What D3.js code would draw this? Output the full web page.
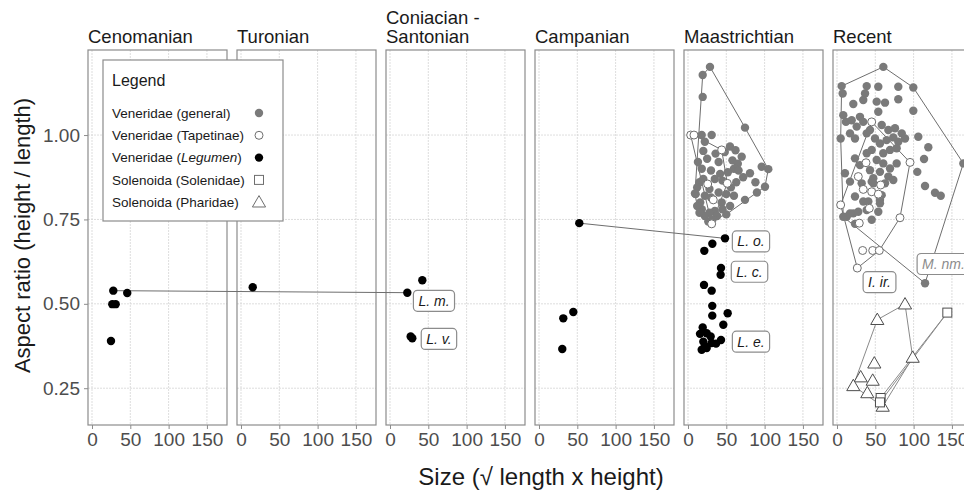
<!DOCTYPE html>
<html>
<head>
<meta charset="utf-8">
<script src="https://cdn.jsdelivr.net/npm/d3@7"></script>
<style>
  body { margin: 0; background: #fff; }
  svg { font-family: "Liberation Sans", Arial, sans-serif; }
</style>
</head>
<body>
<div id="chart"></div>
<script>
// periods (facets), left to right
const periods = ["Cenomanian", "Turonian", "Coniacian - Santonian", "Campanian", "Maastrichtian", "Recent"];
const xTicks = [0, 50, 100, 150];
const yTicks = [0.25, 0.50, 0.75, 1.00];

// Veneridae (general) : [period, size, aspect]
const general = [
  // Maastrichtian
  ["Maastrichtian",28.7,1.202],["Maastrichtian",19.2,1.178],["Maastrichtian",19.2,1.113],["Maastrichtian",74.4,1.022],
  ["Maastrichtian",17.9,1.0],["Maastrichtian",30.9,1.0],["Maastrichtian",22,0.98],
  ["Maastrichtian",54.8,0.966],["Maastrichtian",20,0.953],["Maastrichtian",48,0.95],["Maastrichtian",36,0.945],["Maastrichtian",62,0.955],
  ["Maastrichtian",70.1,0.936],["Maastrichtian",58,0.925],["Maastrichtian",25,0.93],["Maastrichtian",40,0.92],["Maastrichtian",65,0.915],["Maastrichtian",13,0.92],
  ["Maastrichtian",96.2,0.906],["Maastrichtian",104.8,0.899],["Maastrichtian",80.9,0.887],["Maastrichtian",60,0.9],["Maastrichtian",66,0.895],
  ["Maastrichtian",52,0.89],["Maastrichtian",18,0.9],["Maastrichtian",30,0.895],["Maastrichtian",42,0.885],["Maastrichtian",72,0.875],
  ["Maastrichtian",100.5,0.847],["Maastrichtian",88,0.86],["Maastrichtian",63,0.86],["Maastrichtian",56,0.845],["Maastrichtian",15,0.86],
  ["Maastrichtian",35,0.87],["Maastrichtian",45,0.865],["Maastrichtian",20,0.87],["Maastrichtian",12,0.845],["Maastrichtian",28,0.84],
  ["Maastrichtian",74.4,0.808],["Maastrichtian",90,0.83],["Maastrichtian",60,0.82],["Maastrichtian",50,0.825],["Maastrichtian",40,0.83],
  ["Maastrichtian",10,0.825],["Maastrichtian",22,0.82],["Maastrichtian",30,0.815],["Maastrichtian",44,0.80],["Maastrichtian",16,0.80],["Maastrichtian",9.1,0.827],
  ["Maastrichtian",26.5,0.744],["Maastrichtian",18,0.78],["Maastrichtian",35,0.775],["Maastrichtian",45,0.78],["Maastrichtian",55,0.79],
  ["Maastrichtian",12,0.79],["Maastrichtian",28,0.77],["Maastrichtian",38,0.76],["Maastrichtian",22,0.76],["Maastrichtian",50,0.765],
  ["Maastrichtian",32,0.75],["Maastrichtian",15,0.77],
  // Recent
  ["Recent",60.5,1.202],["Recent",6.1,1.145],["Recent",7.4,1.123],["Recent",38.8,1.145],["Recent",53.9,1.143],["Recent",80.0,1.143],
  ["Recent",99.6,1.141],["Recent",36.6,1.123],["Recent",34.3,1.104],["Recent",21.3,1.092],["Recent",51.8,1.099],["Recent",62.7,1.096],
  ["Recent",80.0,1.106],["Recent",99.6,1.072],["Recent",53.9,1.069],["Recent",8.2,1.059],["Recent",11.7,1.039],["Recent",19.2,1.044],
  ["Recent",30.0,1.054],["Recent",34.3,1.039],["Recent",25.7,1.025],["Recent",43.1,1.015],["Recent",58.4,1.030],["Recent",67.0,1.015],
  ["Recent",75.7,1.020],["Recent",84.5,1.005],["Recent",88.8,0.990],["Recent",4.8,0.990],["Recent",17.0,1.005],["Recent",23.5,0.990],
  ["Recent",38.8,1.005],["Recent",49.6,0.990],["Recent",56.1,0.975],["Recent",64.8,0.985],["Recent",73.5,0.993],["Recent",80.0,0.980],
  ["Recent",69.2,0.956],["Recent",77.9,0.961],["Recent",60.4,0.946],["Recent",106.1,0.995],["Recent",119.2,0.964],["Recent",113.6,0.929],
  ["Recent",104.8,0.891],["Recent",114.9,0.849],["Recent",127.9,0.829],["Recent",135.4,0.820],["Recent",164.9,0.916],
  ["Recent",23.5,0.931],["Recent",30.0,0.911],["Recent",38.8,0.946],["Recent",45.3,0.956],["Recent",51.8,0.926],["Recent",60.4,0.916],
  ["Recent",69.2,0.901],["Recent",77.9,0.916],["Recent",67.0,0.877],["Recent",56.1,0.891],["Recent",43.1,0.896],["Recent",73.5,0.867],
  ["Recent",62.7,0.857],["Recent",47.4,0.872],["Recent",10.4,0.887],["Recent",17.0,0.862],["Recent",32.2,0.857],["Recent",45.3,0.862],
  ["Recent",23.5,0.818],["Recent",34.3,0.803],["Recent",56.1,0.808],["Recent",21.3,0.768],["Recent",27.8,0.773],["Recent",38.8,0.778],
  ["Recent",53.9,0.773],["Recent",12.7,0.758],["Recent",45.3,0.749],["Recent",8.2,0.758],["Recent",23.5,0.737],["Recent",17.0,0.768],
  ["Recent",40.9,0.803],["Recent",56.1,0.798],["Recent",58.3,0.822],["Recent",47.4,0.857],["Recent",114.9,0.561]
];

// Veneridae (Tapetinae)
const tapetinae = [
  ["Maastrichtian",3.5,1.0],["Maastrichtian",7.8,1.0],["Maastrichtian",44,0.956],["Maastrichtian",25.7,0.855],
  ["Maastrichtian",51.3,0.857],["Maastrichtian",33,0.808],["Maastrichtian",30.9,0.737],
  ["Recent",45.3,1.039],["Recent",95.3,0.919],["Recent",37.9,0.918],["Recent",27.8,0.877],["Recent",34.3,0.839],
  ["Recent",45.3,0.832],["Recent",54,0.825],["Recent",57,0.852],["Recent",42.2,0.783],["Recent",4.8,0.793],
  ["Recent",29.1,0.739],["Recent",82.2,0.755],["Recent",33.5,0.658],["Recent",46.6,0.658],["Recent",55.2,0.658],["Recent",26.5,0.606]
];

// Veneridae (Legumen)
const legumen = [
  ["Cenomanian",27.8,0.539],["Cenomanian",46,0.532],["Cenomanian",26.5,0.499],["Cenomanian",30.9,0.499],["Cenomanian",24.8,0.39],
  ["Turonian",15.3,0.549],
  ["Coniacian - Santonian",22.6,0.533],["Coniacian - Santonian",42.2,0.570],["Coniacian - Santonian",27,0.403],["Coniacian - Santonian",29.1,0.398],
  ["Campanian",52.6,0.739],["Campanian",44.8,0.476],["Campanian",31.7,0.457],["Campanian",30.4,0.366],
  ["Maastrichtian",48.3,0.694],["Maastrichtian",31.8,0.678],["Maastrichtian",21.3,0.657],["Maastrichtian",43.1,0.606],
  ["Maastrichtian",42.6,0.586],["Maastrichtian",20.9,0.556],["Maastrichtian",30.9,0.539],["Maastrichtian",31.7,0.494],
  ["Maastrichtian",31.7,0.465],["Maastrichtian",51.8,0.472],["Maastrichtian",46.1,0.438],["Maastrichtian",19.2,0.430],
  ["Maastrichtian",15.7,0.411],["Maastrichtian",24.4,0.413],["Maastrichtian",29.6,0.403],["Maastrichtian",20,0.388],
  ["Maastrichtian",36.6,0.382],["Maastrichtian",43.1,0.393],["Maastrichtian",17.9,0.364],["Maastrichtian",24.4,0.369],
  ["Maastrichtian",30.9,0.384],["Maastrichtian",22,0.375]
];

// Solenoida (Solenidae)
const solenidae = [["Recent",144,0.474],["Recent",57,0.221],["Recent",56.1,0.208]];

// Solenoida (Pharidae)
const pharidae = [
  ["Recent",88.8,0.499],["Recent",52.6,0.453],["Recent",98.8,0.341],["Recent",48.7,0.324],["Recent",30.9,0.283],
  ["Recent",46.6,0.273],["Recent",21.3,0.257],["Recent",39.6,0.236],["Recent",59.7,0.196]
];

// links between the same taxon in two periods
const links = [
  ["Cenomanian",27.8,0.539,"Coniacian - Santonian",22.6,0.533],
  ["Campanian",52.6,0.739,"Maastrichtian",48.3,0.694]
];

// taxon labels: [period, text, label x, label y]
const labels = [
  ["Coniacian - Santonian","L. m.",57.4,0.509],
  ["Coniacian - Santonian","L. v.",63.9,0.396],
  ["Maastrichtian","L. o.",82.2,0.685],
  ["Maastrichtian","L. c.",80.3,0.595],
  ["Maastrichtian","L. e.",82.2,0.388],
  ["Recent","I. ir.",55.5,0.564],
  ["Recent","M. nm.",139,0.618]
];

const legendItems = ["Veneridae (general)", "Veneridae (Tapetinae)", "Veneridae (Legumen)", "Solenoida (Solenidae)", "Solenoida (Pharidae)"];

const W = 964, H = 493;
const panelW = 139, gap = 10, left0 = 88, plotTop = 50, plotBottom = 425;

const svg = d3.select('#chart').append('svg')
  .attr('width', W).attr('height', H);

const x = d3.scaleLinear().domain([-5.2, 176.2]).range([0, panelW]);
const y = d3.scaleLinear().domain([0.141, 1.252]).range([plotBottom, plotTop]);
const px = (p, v) => left0 + periods.indexOf(p) * (panelW + gap) + x(v);

// panels
periods.forEach(function(p, i){
  const g = svg.append('g').attr('transform', `translate(${left0 + i*(panelW+gap)},0)`);

  g.selectAll('.gx').data(xTicks).enter().append('line')
    .attr('x1', d => x(d)).attr('x2', d => x(d))
    .attr('y1', plotTop).attr('y2', plotBottom)
    .style('stroke', '#d4d4d4').style('stroke-width', 0.8).style('stroke-dasharray', '2,1');
  g.selectAll('.gy').data(yTicks).enter().append('line')
    .attr('x1', 0).attr('x2', panelW)
    .attr('y1', d => y(d)).attr('y2', d => y(d))
    .style('stroke', '#d4d4d4').style('stroke-width', 0.8).style('stroke-dasharray', '2,1');

  g.append('rect')
    .attr('x', 0).attr('y', plotTop).attr('width', panelW).attr('height', plotBottom - plotTop)
    .style('fill', 'none').style('stroke', '#8c8c8c').style('stroke-width', 1.2);

  // x axis
  const ax = g.append('g').attr('transform', `translate(0,${plotBottom})`)
    .call(d3.axisBottom(x).tickValues(xTicks).tickSize(4).tickPadding(4));
  ax.select('.domain').remove();
  ax.selectAll('line').style('stroke', '#8c8c8c');
  ax.selectAll('text').style('font-size', '19px').style('fill', '#4d4d4d')
    .style('font-family', '"Liberation Sans", Arial, sans-serif');

  // title
  const lines = p.indexOf(' - ') >= 0 ? ["Coniacian -", "Santonian"] : [p];
  lines.forEach(function(t, j){
    g.append('text').attr('x', 0).attr('y', 43 - (lines.length - 1 - j) * 19)
      .style('font-size', '18.5px').style('fill', '#1a1a1a').text(t);
  });
});

// y axis
const ay = svg.append('g').attr('transform', `translate(${left0},0)`)
  .call(d3.axisLeft(y).tickValues(yTicks).tickFormat(d3.format('.2f')).tickSize(4).tickPadding(4));
ay.select('.domain').remove();
ay.selectAll('line').style('stroke', '#8c8c8c');
ay.selectAll('text').style('font-size', '19px').style('fill', '#4d4d4d')
  .style('font-family', '"Liberation Sans", Arial, sans-serif');

svg.append('text')
  .attr('transform', `translate(30,${(plotTop+plotBottom)/2 - 2}) rotate(-90)`)
  .attr('text-anchor', 'middle')
  .style('font-size', '22px').style('fill', '#1a1a1a')
  .text('Aspect ratio (height / length)');

svg.append('text')
  .attr('x', 541).attr('y', 485)
  .attr('text-anchor', 'middle')
  .style('font-size', '24px').style('fill', '#1a1a1a')
  .text('Size (\u221A length x height)');

// hulls
const hullLayer = svg.append('g');
function drawHulls(data, color){
  d3.groups(data, d => d[0]).forEach(function([p, pts]){
    if (pts.length < 3) return;
    const hull = d3.polygonHull(pts.map(d => [px(p, d[1]), y(d[2])]));
    hullLayer.append('path')
      .attr('d', 'M' + hull.join('L') + 'Z')
      .style('fill', 'none').style('stroke', color).style('stroke-width', 1);
  });
}
drawHulls(general, '#6e6e6e');
drawHulls(tapetinae, '#6e6e6e');
drawHulls(pharidae, '#8a8a8a');
drawHulls(solenidae, '#8a8a8a');

// links
svg.append('g').selectAll('line').data(links).enter().append('line')
  .attr('x1', d => px(d[0], d[1])).attr('y1', d => y(d[2]))
  .attr('x2', d => px(d[3], d[4])).attr('y2', d => y(d[5]))
  .style('stroke', '#6e6e6e').style('stroke-width', 1);

// points
const pts = svg.append('g');
pts.selectAll('.gen').data(general).enter().append('circle')
  .attr('cx', d => px(d[0], d[1])).attr('cy', d => y(d[2])).attr('r', 4.2)
  .style('fill', '#7a7a7a');
pts.selectAll('.leg').data(legumen).enter().append('circle')
  .attr('cx', d => px(d[0], d[1])).attr('cy', d => y(d[2])).attr('r', 4.2)
  .style('fill', '#000');
pts.selectAll('.tap').data(tapetinae).enter().append('circle')
  .attr('cx', d => px(d[0], d[1])).attr('cy', d => y(d[2])).attr('r', 4)
  .style('fill', '#fff').style('stroke', '#6e6e6e').style('stroke-width', 1);
const tri = d3.symbol().type(d3.symbolTriangle).size(75);
pts.selectAll('.pha').data(pharidae).enter().append('path')
  .attr('d', tri)
  .attr('transform', d => `translate(${px(d[0], d[1])},${y(d[2]) + 1})`)
  .style('fill', '#fff').style('stroke', '#4d4d4d').style('stroke-width', 1);
pts.selectAll('.sol').data(solenidae).enter().append('rect')
  .attr('x', d => px(d[0], d[1]) - 4.5).attr('y', d => y(d[2]) - 4.5)
  .attr('width', 9).attr('height', 9)
  .style('fill', '#fff').style('stroke', '#4d4d4d').style('stroke-width', 1);

// labels
const lab = svg.append('g').selectAll('g').data(labels).enter().append('g')
  .attr('transform', d => `translate(${px(d[0], d[2])},${y(d[3])})`);
lab.append('text')
  .attr('text-anchor', 'middle').attr('dy', '0.35em')
  .style('font-size', '14px').style('font-style', 'italic')
  .style('fill', d => d[1] === 'M. nm.' ? '#8c8c8c' : '#1a1a1a')
  .text(d => d[1]);
lab.each(function(){
  const g = d3.select(this);
  const b = g.select('text').node().getBBox();
  g.insert('rect', 'text')
    .attr('x', b.x - 5).attr('y', -10.5).attr('width', b.width + 10).attr('height', 21)
    .attr('rx', 4)
    .style('fill', '#fff').style('stroke', '#8c8c8c').style('stroke-width', 1.2);
});

// legend
const lg = svg.append('g').attr('transform', 'translate(103,60)');
lg.append('rect').attr('width', 180).attr('height', 161)
  .style('fill', '#fff').style('stroke', '#8c8c8c').style('stroke-width', 1.2);
lg.append('text').attr('x', 9).attr('y', 26).style('font-size', '16px').style('fill', '#1a1a1a').text('Legend');
legendItems.forEach(function(t, i){
  const yy = 53 + i * 22.3;
  const txt = lg.append('text').attr('x', 9).attr('y', yy + 4.8)
    .style('font-size', '13.5px').style('fill', '#1a1a1a');
  if (t.indexOf('Legumen') >= 0) {
    txt.append('tspan').text('Veneridae (');
    txt.append('tspan').style('font-style', 'italic').text('Legumen');
    txt.append('tspan').text(')');
  } else {
    txt.text(t);
  }
  const sx = 156;
  if (i === 0) lg.append('circle').attr('cx', sx).attr('cy', yy).attr('r', 4.2).style('fill', '#7a7a7a');
  if (i === 1) lg.append('circle').attr('cx', sx).attr('cy', yy).attr('r', 4).style('fill', '#fff').style('stroke', '#6e6e6e');
  if (i === 2) lg.append('circle').attr('cx', sx).attr('cy', yy).attr('r', 4.2).style('fill', '#000');
  if (i === 3) lg.append('rect').attr('x', sx - 4.5).attr('y', yy - 4.5).attr('width', 9).attr('height', 9)
    .style('fill', '#fff').style('stroke', '#6e6e6e');
  if (i === 4) lg.append('path').attr('d', tri).attr('transform', `translate(${sx},${yy + 1})`)
    .style('fill', '#fff').style('stroke', '#6e6e6e');
});
</script>
</body>
</html>
